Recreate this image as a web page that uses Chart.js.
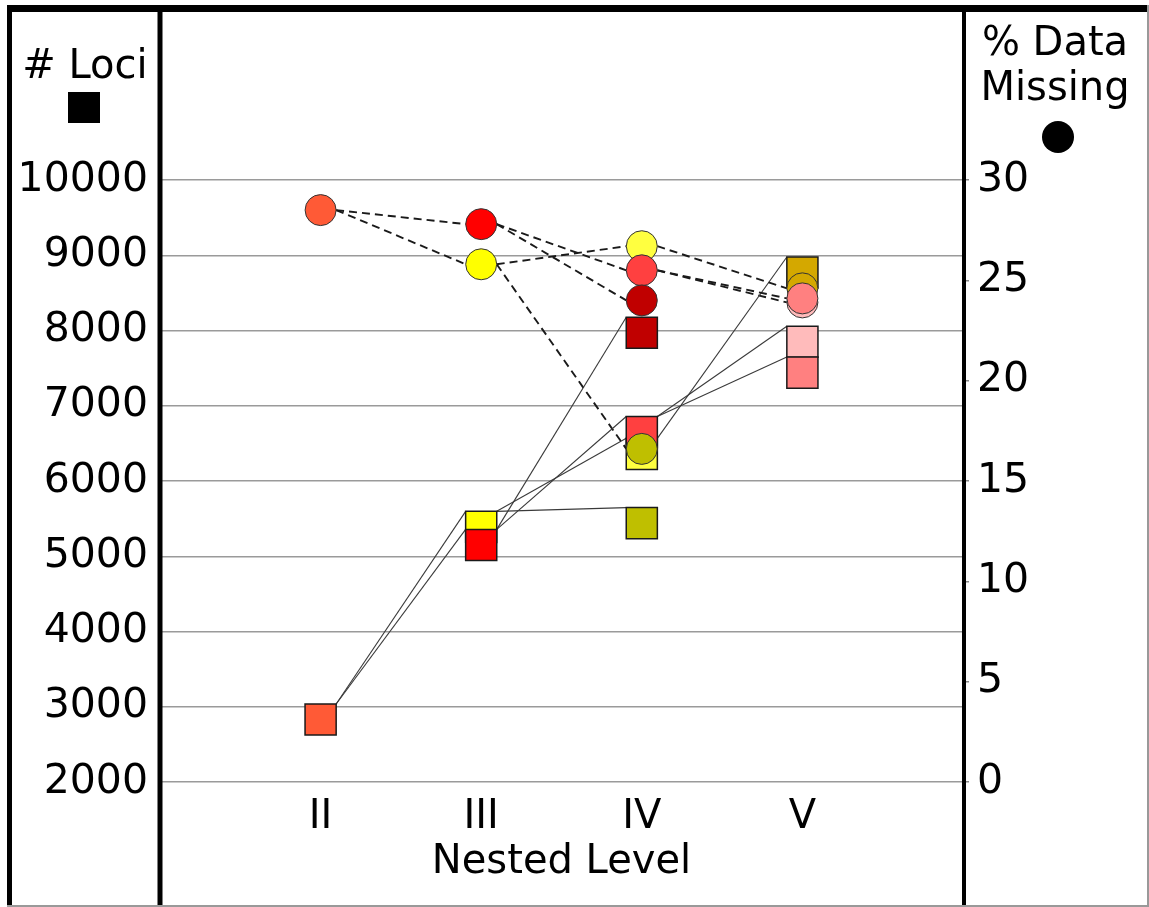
<!DOCTYPE html>
<html>
<head>
<meta charset="utf-8">
<script src="https://cdn.jsdelivr.net/npm/chart.js@4"></script>
<style>
  body { margin: 0; background: #fff; }
  canvas { display: block; }
</style>
</head>
<body>
<canvas id="chart" width="1149" height="907"></canvas>
<script>
// Nested levels on the x axis
const levels = ['II', 'III', 'IV', 'V'];

// One entry per node of the nesting tree
const nodeLevel = ['II', 'III', 'III', 'IV', 'IV', 'IV', 'IV', 'V', 'V', 'V'];
const nodeParent = [-1, 0, 0, 1, 1, 2, 2, 5, 3, 5];
const lociValues = [2830, 5390, 5150, 6360, 5440, 6650, 7970, 7850, 8770, 7440];
const missingValues = [28.5, 25.8, 27.8, 26.7, 16.6, 25.5, 24.0, 23.9, 24.6, 24.1];
const nodeColors = ['#FF5A36', '#FFFF00', '#FF0000', '#FFFF40', '#BFBF00',
                    '#FF4040', '#C00000', '#FFBBBB', '#D4A800', '#FF8080'];

// Tick labels
const lociTicks = [2000, 3000, 4000, 5000, 6000, 7000, 8000, 9000, 10000];
const missingTicks = [0, 5, 10, 15, 20, 25, 30];

const FONT = '"DejaVu Sans", Verdana, sans-serif';
const SQUARE_R = 22;   // rect point radius -> ~31px side
const CIRCLE_R = 15.5;

const levelPos = name => levels.indexOf(name) + 2;

// Connector lines: solid for loci (top corners of squares), dashed for missing data
const connectors = {
    id: 'connectors',
    beforeDatasetsDraw(chart) {
        const ctx = chart.ctx;
        const x = chart.scales.x, yL = chart.scales.yLoci, yR = chart.scales.yMissing;
        const h = SQUARE_R * Math.SQRT1_2;
        ctx.save();
        nodeParent.forEach((p, i) => {
            if (p < 0) return;
            const x0 = x.getPixelForValue(levelPos(nodeLevel[p]));
            const x1 = x.getPixelForValue(levelPos(nodeLevel[i]));
            // solid
            ctx.setLineDash([]);
            ctx.strokeStyle = '#3a3a3a';
            ctx.lineWidth = 1.1;
            ctx.beginPath();
            ctx.moveTo(x0 + h, yL.getPixelForValue(lociValues[p]) - h);
            ctx.lineTo(x1 - h, yL.getPixelForValue(lociValues[i]) - h);
            ctx.stroke();
            // dashed
            ctx.setLineDash([8, 5]);
            ctx.strokeStyle = '#1a1a1a';
            ctx.lineWidth = 1.9;
            ctx.beginPath();
            ctx.moveTo(x0 + CIRCLE_R, yR.getPixelForValue(missingValues[p]));
            ctx.lineTo(x1 - CIRCLE_R, yR.getPixelForValue(missingValues[i]));
            ctx.stroke();
        });
        ctx.restore();
    }
};

// Frame, axis titles and their marker keys
const frame = {
    id: 'frame',
    afterDraw(chart) {
        const ctx = chart.ctx;
        const area = chart.chartArea;
        ctx.save();
        ctx.fillStyle = '#000';
        ctx.fillRect(7, 5, chart.width - 7, 7);
        ctx.fillRect(7, 5, 5, chart.height - 5);
        ctx.fillRect(area.left - 2.5, 5, 5, chart.height - 5);
        ctx.fillRect(area.right - 1, 5, 4, chart.height - 5);
        ctx.fillStyle = '#999';
        ctx.fillRect(chart.width - 2, 5, 2, chart.height - 5);
        ctx.fillRect(7, chart.height - 2, chart.width - 7, 2);

        ctx.fillStyle = '#000';
        ctx.font = '40px ' + FONT;
        ctx.textAlign = 'center';
        ctx.textBaseline = 'alphabetic';
        ctx.fillText('# Loci', 85, 78);
        ctx.fillText('% Data', 1055, 55);
        ctx.fillText('Missing', 1055, 100);

        ctx.fillRect(68, 92, 32, 31);
        ctx.beginPath();
        ctx.arc(1058, 137, 16, 0, Math.PI * 2);
        ctx.fill();
        ctx.restore();
    }
};

const ctx = document.getElementById('chart').getContext('2d');
new Chart(ctx, {
    type: 'scatter',
    data: {
        datasets: [
            {
                label: '# Loci',
                data: lociValues.map((v, i) => ({ x: levelPos(nodeLevel[i]), y: v })),
                yAxisID: 'yLoci',
                pointStyle: 'rect',
                pointRadius: SQUARE_R,
                pointHoverRadius: SQUARE_R,
                backgroundColor: nodeColors,
                borderColor: '#1a1a1a',
                borderWidth: 1.5,
                order: 2
            },
            {
                label: '% Data Missing',
                data: missingValues.map((v, i) => ({ x: levelPos(nodeLevel[i]), y: v })),
                yAxisID: 'yMissing',
                pointStyle: 'circle',
                pointRadius: CIRCLE_R,
                pointHoverRadius: CIRCLE_R,
                backgroundColor: nodeColors,
                borderColor: '#333',
                borderWidth: 1,
                order: 1
            }
        ]
    },
    options: {
        responsive: false,
        animation: false,
        layout: { padding: { top: 180, left: 0, right: 0, bottom: 0 } },
        plugins: {
            legend: { display: false },
            tooltip: { enabled: false }
        },
        scales: {
            x: {
                type: 'linear',
                min: 1,
                max: 6,
                afterBuildTicks: scale => {
                    scale.ticks = levels.map(l => ({ value: levelPos(l) }));
                },
                afterFit: scale => { scale.height = 125; },
                grid: { display: false },
                border: { display: false },
                ticks: {
                    color: '#000',
                    font: { family: FONT, size: 40 },
                    padding: 4,
                    callback: v => levels[v - 2]
                },
                title: {
                    display: true,
                    text: 'Nested Level',
                    color: '#000',
                    font: { family: FONT, size: 40 },
                    padding: { top: 0, bottom: 20 }
                }
            },
            yLoci: {
                position: 'left',
                min: lociTicks[0],
                max: lociTicks[lociTicks.length - 1],
                afterBuildTicks: scale => {
                    scale.ticks = lociTicks.map(v => ({ value: v }));
                },
                afterFit: scale => { scale.width = 160; },
                grid: { color: '#9a9a9a', lineWidth: 1.5, drawTicks: false },
                border: { display: false },
                ticks: {
                    color: '#000',
                    font: { family: FONT, size: 41 },
                    padding: 12,
                    callback: v => String(v)
                }
            },
            yMissing: {
                position: 'right',
                min: missingTicks[0],
                max: missingTicks[missingTicks.length - 1],
                afterBuildTicks: scale => {
                    scale.ticks = missingTicks.map(v => ({ value: v }));
                },
                afterFit: scale => { scale.width = 186; },
                grid: { drawOnChartArea: false, color: '#888', lineWidth: 1.5, tickLength: 6 },
                border: { display: false },
                ticks: {
                    color: '#000',
                    font: { family: FONT, size: 41 },
                    padding: 8,
                    callback: v => String(v)
                }
            }
        }
    },
    plugins: [connectors, frame]
});
</script>
</body>
</html>
